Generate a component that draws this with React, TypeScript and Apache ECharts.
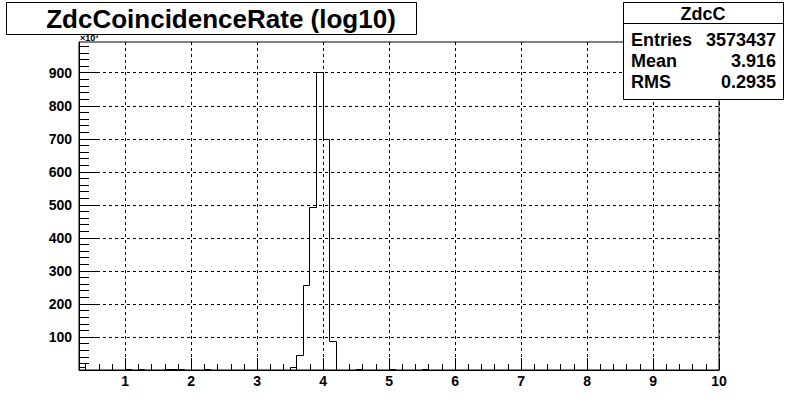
import React, { useEffect, useRef } from "react";
import * as echarts from "echarts";

// ---- data (counts in units of 10^3) ----
const chartTitle = "ZdcCoincidenceRate (log10)";
const statsName = "ZdcC";
const statsLabels = ["Entries", "Mean", "RMS"];
const statsValues = ["3573437", "3.916", "0.2935"];
const yExponentLabel = "×10³";

const xMin = 0.3;
const xMax = 10;
const yMin = 0;
const yMax = 993;
const binWidth = 0.1;

const xMajorTicks = [1, 2, 3, 4, 5, 6, 7, 8, 9, 10];
const yMajorTicks = [0, 100, 200, 300, 400, 500, 600, 700, 800, 900];

const binLowEdges = [0.3, 1.0, 1.2, 1.6, 1.7, 1.8, 2.2, 3.5, 3.6, 3.7, 3.8, 3.9, 4.0, 4.1, 4.5, 5.0, 5.5];
const binCounts = [7, 3, 3, 3, 3, 3, 3, 8, 44, 257, 493, 902, 699, 85, 3, 3, 3];

// minor tick positions (axis decoration)
const xMinorTicks: number[] = [];
for (let i = 4; i < 100; i += 2) if (i % 10 !== 0) xMinorTicks.push(+(i / 10).toFixed(1));
const yMinorTicks: number[] = [];
for (let v = 20; v < yMax; v += 20) if (v % 100 !== 0) yMinorTicks.push(v);

const FONT = "'Liberation Sans', Arial, Helvetica, sans-serif";

export default function App() {
  const ref = useRef<HTMLDivElement>(null);
  useEffect(() => {
    if (!ref.current) return;
    const chart = echarts.init(ref.current, null, { renderer: "svg" });
    const crisp = (v: number) => Math.round(v - 0.5) + 0.5;
    const binIndex = (x: number) => Math.round((x - xMin) / binWidth);
    const histData = binLowEdges.map((x, i) => {
      const prevAdj = i > 0 && binIndex(binLowEdges[i - 1]) === binIndex(x) - 1;
      const nextAdj = i < binLowEdges.length - 1 && binIndex(binLowEdges[i + 1]) === binIndex(x) + 1;
      return [x, binCounts[i], prevAdj ? binCounts[i - 1] : 0, nextAdj ? 1 : 0];
    });

    const option: any = {
      animation: false,
      backgroundColor: "#fff",
      grid: {
        left: 79,
        right: 80,
        top: 42,
        bottom: 42,
        show: true,
        borderColor: "#000",
        borderWidth: 1,
        backgroundColor: "transparent",
      },
      xAxis: [
        {
          type: "value",
          min: xMin,
          max: xMax,
          position: "bottom",
          axisLine: { show: true, onZero: false, lineStyle: { color: "#000", width: 1 } },
          axisTick: { show: true, inside: true, length: 12, customValues: xMajorTicks, lineStyle: { color: "#000" } },
          axisLabel: {
            customValues: xMajorTicks,
            color: "#000",
            fontWeight: "bold",
            fontSize: 14,
            fontFamily: FONT,
            margin: 4,
          },
          splitLine: { show: true, lineStyle: { color: "#000", width: 1, type: [3, 3] } },
        },
        {
          type: "value",
          min: xMin,
          max: xMax,
          position: "bottom",
          axisLine: { show: false, onZero: false },
          axisTick: { show: true, inside: true, length: 6, customValues: xMinorTicks, lineStyle: { color: "#000" } },
          axisLabel: { show: false },
          splitLine: { show: false },
        },
      ],
      yAxis: [
        {
          type: "value",
          min: yMin,
          max: yMax,
          position: "left",
          axisLine: { show: true, onZero: false, lineStyle: { color: "#000", width: 1 } },
          axisTick: { show: true, inside: true, length: 20, customValues: yMajorTicks, lineStyle: { color: "#000" } },
          axisLabel: {
            customValues: yMajorTicks.filter((v) => v > 0),
            color: "#000",
            fontWeight: "bold",
            fontSize: 14,
            fontFamily: FONT,
            margin: 7,
          },
          splitLine: { show: true, lineStyle: { color: "#000", width: 1, type: [3, 3] } },
        },
        {
          type: "value",
          min: yMin,
          max: yMax,
          position: "left",
          axisLine: { show: false, onZero: false },
          axisTick: { show: true, inside: true, length: 10, customValues: yMinorTicks, lineStyle: { color: "#000" } },
          axisLabel: { show: false },
          splitLine: { show: false },
        },
      ],
      series: [
        {
          type: "custom",
          xAxisIndex: 0,
          yAxisIndex: 0,
          data: histData,
          encode: { x: 0, y: 1 },
          clip: true,
          renderItem: (params: any, api: any) => {
            const x0 = api.value(0);
            const v = api.value(1);
            const prev = api.value(2);
            const hasNext = api.value(3) === 1;
            const raw = [
              api.coord([x0, prev]),
              api.coord([x0, v]),
              api.coord([x0 + binWidth, v]),
            ];
            if (!hasNext) raw.push(api.coord([x0 + binWidth, 0]));
            const pts = raw.map((p: number[]) => [crisp(p[0]), crisp(p[1])]);
            return {
              type: "polyline",
              shape: { points: pts },
              style: { stroke: "#000", lineWidth: 1, fill: null },
            };
          },
        },
      ],
      graphic: [
        {
          type: "text",
          z: 1,
          left: 80,
          top: 33,
          style: { text: yExponentLabel, fill: "#000", font: `bold 9px ${FONT}`, lineHeight: 9 },
        },
        {
          type: "rect",
          z: 10,
          shape: { x: 6.5, y: 2.5, width: 410, height: 32 },
          style: { fill: "#fff", stroke: "#000", lineWidth: 1 },
        },
        {
          type: "text",
          z: 11,
          x: 221,
          y: 19,
          style: {
            text: chartTitle,
            fill: "#000",
            font: `bold 26px ${FONT}`,
            lineHeight: 24,
            textAlign: "center",
            textVerticalAlign: "middle",
          },
        },
        {
          type: "rect",
          z: 10,
          shape: { x: 623.5, y: 2.5, width: 160, height: 97 },
          style: { fill: "#fff", stroke: "#000", lineWidth: 1 },
        },
        {
          type: "line",
          z: 11,
          shape: { x1: 623.5, y1: 23.5, x2: 783.5, y2: 23.5 },
          style: { stroke: "#000", lineWidth: 1 },
        },
        {
          type: "text",
          z: 11,
          x: 703,
          y: 13.5,
          style: { text: statsName, fill: "#000", font: `bold 18px ${FONT}`, textAlign: "center", textVerticalAlign: "middle" },
        },
        ...statsLabels.map((lab, i) => ({
          type: "text",
          z: 11,
          x: 631,
          y: 40 + i * 20.8,
          style: { text: lab, fill: "#000", font: `bold 18px ${FONT}`, textAlign: "left", textVerticalAlign: "middle" },
        })),
        ...statsValues.map((val, i) => ({
          type: "text",
          z: 11,
          x: 776,
          y: 40 + i * 20.8,
          style: { text: val, fill: "#000", font: `bold 18px ${FONT}`, textAlign: "right", textVerticalAlign: "middle" },
        })),
      ],
    };
    chart.setOption(option);
    return () => chart.dispose();
  }, []);
  return (
    <div
      ref={ref}
      style={{ position: "fixed", left: 0, top: 0, width: 799, height: 412, background: "#fff" }}
    />
  );
}
